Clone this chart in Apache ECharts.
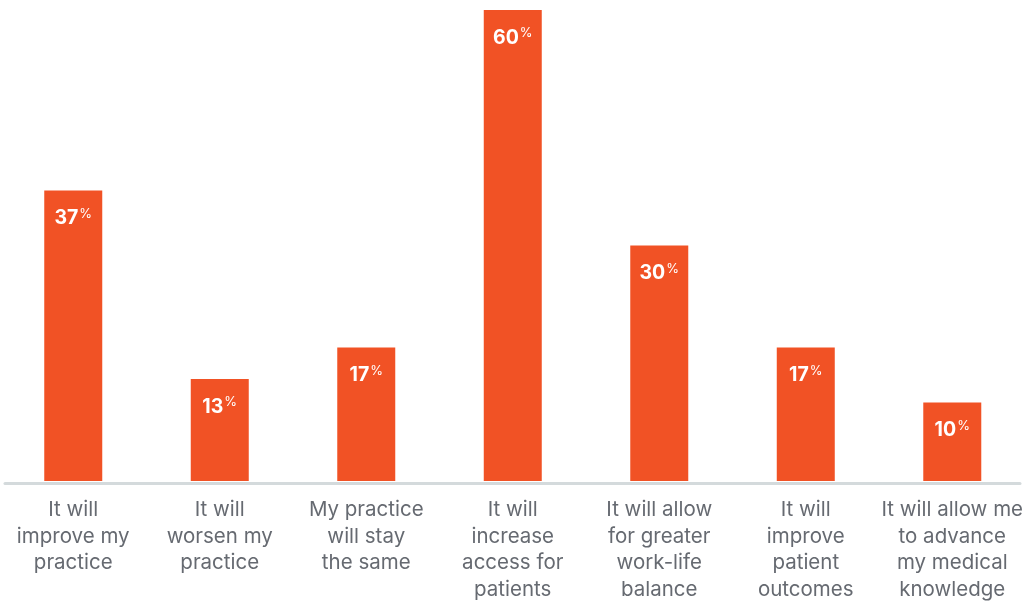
<!DOCTYPE html>
<html>
<head>
<meta charset="utf-8">
<style>
  html, body { margin: 0; padding: 0; background: #ffffff; }
  #chart { width: 1026px; height: 603px; }
</style>
<script src="https://cdn.jsdelivr.net/npm/echarts@6/dist/echarts.min.js"></script>
</head>
<body>
<div id="chart"></div>
<script>
// Survey answers, one bar per statement
const categories = [
  'It will\nimprove my\npractice',
  'It will\nworsen my\npractice',
  'My practice\nwill stay\nthe same',
  'It will\nincrease\naccess for\npatients',
  'It will allow\nfor greater\nwork-life\nbalance',
  'It will\nimprove\npatient\noutcomes',
  'It will allow me\nto advance\nmy medical\nknowledge'
];
const shares = [37, 13, 17, 60, 30, 17, 10];

const FONT = 'Inter, "Open Sans", sans-serif';
const BAR = '#F15225';

const chart = echarts.init(document.getElementById('chart'), null, { renderer: 'canvas' });

chart.setOption({
  backgroundColor: '#ffffff',
  animation: false,
  grid: [
    { left: 0, right: 0, top: 10, bottom: 122, containLabel: false },
    // thin baseline grid, slightly inset from the page edges
    { left: 5, right: 6, top: 10, bottom: 119.5, containLabel: false }
  ],
  xAxis: [
    {
      type: 'category',
      gridIndex: 0,
      data: categories,
      axisLine: { show: false },
      axisTick: { show: false },
      axisLabel: {
        interval: 0,
        margin: 16,
        color: '#666a71',
        fontFamily: FONT,
        fontSize: 20.5,
        lineHeight: 26.5,
        align: 'center'
      }
    },
    {
      type: 'category',
      gridIndex: 1,
      data: [''],
      axisLine: { show: true, lineStyle: { color: '#d4dadc', width: 3 } },
      axisTick: { show: false },
      axisLabel: { show: false }
    }
  ],
  yAxis: [
    { type: 'value', gridIndex: 0, min: 0, max: 60, show: false },
    { type: 'value', gridIndex: 1, min: 0, max: 1, show: false }
  ],
  series: [
    {
      type: 'bar',
      xAxisIndex: 0,
      yAxisIndex: 0,
      data: shares,
      barWidth: 58,
      itemStyle: { color: BAR },
      z: 3,
      label: {
        show: true,
        position: 'insideTop',
        distance: 17,
        formatter: function (p) { return '{v|' + p.value + '}{p|%}'; },
        rich: {
          v: {
            color: '#ffffff',
            fontFamily: FONT,
            fontWeight: 'bold',
            fontSize: 19.5,
            lineHeight: 22
          },
          p: {
            color: '#ffffff',
            fontFamily: FONT,
            fontSize: 13,
            lineHeight: 14,
            verticalAlign: 'top',
            padding: [0, 0, 0, 1]
          }
        }
      }
    }
  ]
});
</script>
</body>
</html>
